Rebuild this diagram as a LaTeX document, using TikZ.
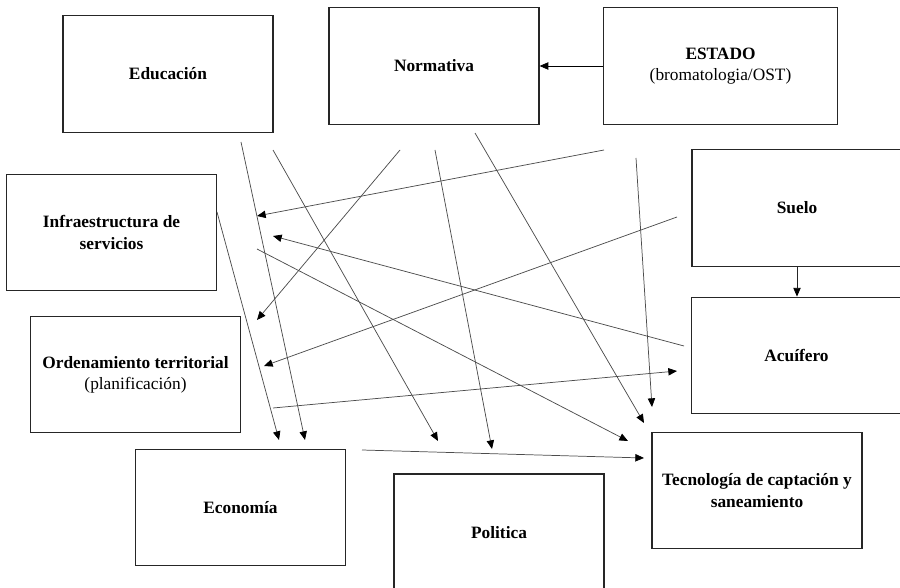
\documentclass[tikz,border=0pt]{standalone}
\usepackage{fontspec}
\setmainfont{Liberation Serif}
\usetikzlibrary{arrows.meta}
\begin{document}
\begin{tikzpicture}[x=0.75pt,y=-0.75pt,
  box/.style={draw=black!85, line width=0.9pt, minimum width=157.5pt, minimum height=87.5pt,
    inner sep=0pt, align=center, font=\fontsize{13}{16}\selectfont},
  conn/.style={draw=black!70, line width=0.55pt,
    -{Triangle[length=6.5pt,width=5.5pt,color=black]}},
  sub/.style={font=\fontsize{13}{16}\selectfont\mdseries}]
\useasboundingbox (0,0) rectangle (900,588);
\clip (0,0) rectangle (900,588);
% boxes
\node[box] (edu) at (168,74) {\textbf{Educación}};
\node[box] (norm) at (434,66) {\textbf{Normativa}};
\node[box, minimum width=176pt] (estado) at (720.5,66) {\textbf{ESTADO}\\(bromatologia/OST)};
\node[box] (suelo) at (797,208) {\textbf{Suelo}};
\node[box] (acuifero) at (796.5,355.5) {\textbf{Acuífero}};
\node[box] (tec) at (757,490.5) {\textbf{Tecnología de captación y}\\\textbf{saneamiento}};
\node[box, minimum height=88.5pt] (pol) at (499,533) {\textbf{Politica}};
\node[box] (eco) at (240.5,507.5) {\textbf{Economía}};
\node[box] (ord) at (135.5,374.5) {\textbf{Ordenamiento territorial}\\(planificación)};
\node[box] (infra) at (111.5,232.5) {\textbf{Infraestructura de}\\\textbf{servicios}};
% free ends
\coordinate (s3) at (604,150);  \coordinate (t3) at (257,216);
\coordinate (s4) at (684,346);  \coordinate (t4) at (273,236);
\coordinate (s5) at (400,150);  \coordinate (t5) at (257,320);
\coordinate (s6) at (677,217);  \coordinate (t6) at (264,366);
\coordinate (s7) at (273,408);  \coordinate (t7) at (677,371);
\coordinate (s8) at (362,450);  \coordinate (t8) at (644,458);
\coordinate (s9) at (241,142);  \coordinate (t9) at (305,440);
\coordinate (s10) at (217,212); \coordinate (t10) at (279,440);
\coordinate (s11) at (273,150); \coordinate (t11) at (438,441);
\coordinate (s12) at (257,249); \coordinate (t12) at (628,441);
\coordinate (s13) at (435,150); \coordinate (t13) at (492,449);
\coordinate (s14) at (475,133); \coordinate (t14) at (644,423);
\coordinate (s15) at (636,158); \coordinate (t15) at (652,407);
% connectors
\draw[conn, draw=black] (estado.west) -- (norm.east);
\draw[conn, draw=black!85] (suelo.south) -- (suelo.south |- acuifero.north);
\foreach \i in {3,...,15} {\draw[conn] (s\i) -- (t\i);}
\end{tikzpicture}
\end{document}
